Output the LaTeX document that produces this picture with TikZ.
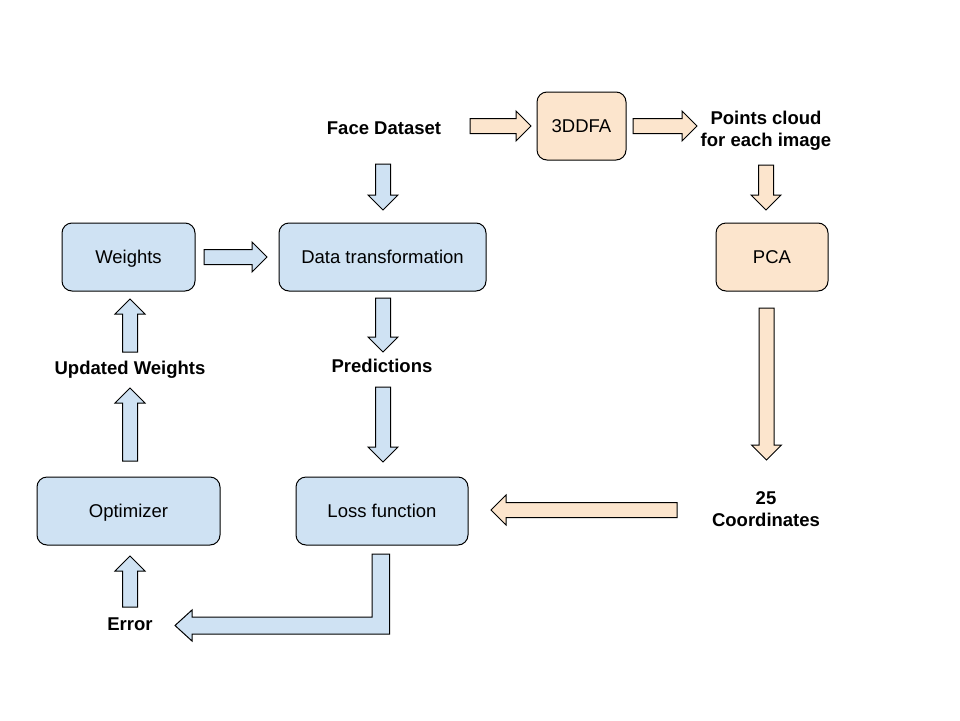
\documentclass[tikz,border=0pt]{standalone}
\usepackage{fontspec}
\setmainfont{Liberation Sans}
\definecolor{bfill}{HTML}{CFE2F3}
\definecolor{ofill}{HTML}{FCE5CD}
\tikzset{
  box/.style={draw=black, line width=1pt, rounded corners=10pt, inner sep=0pt,
    text height=13.3pt, text depth=0pt, font=\fontsize{18.5}{22}\selectfont},
  bluebox/.style={box, fill=bfill},
  orangebox/.style={box, fill=ofill},
  lbl/.style={align=center, inner sep=0pt, font=\fontsize{18.5}{22}\selectfont\bfseries},
  arr/.style={draw=black, line width=1pt, line join=miter},
  barr/.style={arr, fill=bfill},
  oarr/.style={arr, fill=ofill},
}
% right, left: style, x-start, x-tip, y
\newcommand\arrR[4]{\draw[#1] ({#2},{#4-7.5}) -- ({#3-15},{#4-7.5}) -- ({#3-15},{#4-15}) -- ({#3},{#4}) -- ({#3-15},{#4+15}) -- ({#3-15},{#4+7.5}) -- ({#2},{#4+7.5}) -- cycle;}
\newcommand\arrL[4]{\draw[#1] ({#2},{#4-7.5}) -- ({#3+15},{#4-7.5}) -- ({#3+15},{#4-15}) -- ({#3},{#4}) -- ({#3+15},{#4+15}) -- ({#3+15},{#4+7.5}) -- ({#2},{#4+7.5}) -- cycle;}
% down, up: style, y-start, y-tip, x
\newcommand\arrD[4]{\draw[#1] ({#4-7.5},{#2}) -- ({#4-7.5},{#3-15}) -- ({#4-15},{#3-15}) -- ({#4},{#3}) -- ({#4+15},{#3-15}) -- ({#4+7.5},{#3-15}) -- ({#4+7.5},{#2}) -- cycle;}
\newcommand\arrU[4]{\draw[#1] ({#4-7.5},{#2}) -- ({#4-7.5},{#3+15}) -- ({#4-15},{#3+15}) -- ({#4},{#3}) -- ({#4+15},{#3+15}) -- ({#4+7.5},{#3+15}) -- ({#4+7.5},{#2}) -- cycle;}
\begin{document}
\begin{tikzpicture}[x=1pt, y=-1pt]
\useasboundingbox (0,0) rectangle (960,720);
% boxes
\node[orangebox, minimum width=89pt, minimum height=68pt] (dfa) at (581.5,126) {3DDFA};
\node[orangebox, minimum width=112pt, minimum height=68pt] (pca) at (772,257) {PCA};
\node[bluebox, minimum width=133pt, minimum height=68pt] (weights) at (128.5,257) {Weights};
\node[bluebox, minimum width=207pt, minimum height=68pt] (data) at (382.5,257) {Data transformation};
\node[bluebox, minimum width=183pt, minimum height=68pt] (opt) at (128.5,511) {Optimizer};
\node[bluebox, minimum width=172pt, minimum height=68pt] (loss) at (382,511) {Loss function};
% labels
\node[lbl] (face) at (384,128.5) {Face Dataset};
\node[lbl] (points) at (766,130.5) {Points cloud\\for each image};
\node[lbl] (pred) at (382,366) {Predictions};
\node[lbl] (upd) at (130,370) {Updated Weights};
\node[lbl] (coords) at (766,509) {25\\Coordinates};
\node[lbl] (err) at (130,624) {Error};
% arrows (orange)
\arrR{oarr}{470}{531}{126}
\arrR{oarr}{633}{697}{126}
\arrD{oarr}{165}{210}{766}
\arrD{oarr}{308}{460}{766.5}
\arrL{oarr}{677}{491}{510}
% arrows (blue)
\arrD{barr}{164}{210}{383}
\arrR{barr}{204}{267}{257}
\arrD{barr}{298}{352}{383}
\arrD{barr}{387}{462}{383}
\arrU{barr}{461}{388}{130}
\arrU{barr}{352}{299}{130}
\arrU{barr}{607}{556}{130}
% bent arrow loss -> error
\draw[barr] (372,554) -- (389.5,554) -- (389.5,634) -- (192,634) -- (192,641) -- (175,625.5) -- (192,610) -- (192,617) -- (372,617) -- cycle;
\end{tikzpicture}
\end{document}
